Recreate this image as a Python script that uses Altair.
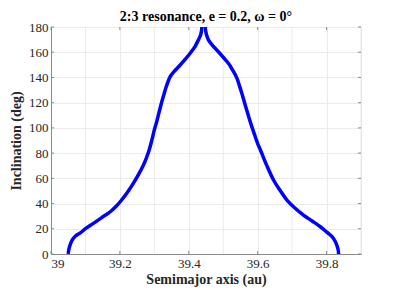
import altair as alt
import pandas as pd

# Left branch (semimajor axis in au, inclination in deg)
left_a = [39.050, 39.051, 39.054, 39.058, 39.064, 39.072, 39.084, 39.102, 39.123, 39.148, 39.172,
          39.190, 39.205, 39.222, 39.239, 39.253, 39.266, 39.276, 39.285, 39.293, 39.300, 39.307,
          39.313, 39.319, 39.326, 39.335, 39.346, 39.360, 39.375, 39.390, 39.404, 39.418, 39.428,
          39.434, 39.437, 39.438]
left_i = [0, 2.5, 6, 9, 12, 14.5, 16.5, 20.5, 24.3, 29, 33.5,
          38, 42.8, 49, 56, 62.5, 69.2, 75.5, 82.5, 90.5, 98.4, 105,
          111.6, 118, 124.8, 133, 140.6, 145.5, 149.9, 154.5, 159.2, 164.5, 169.8,
          173.5, 177, 180]
# Right branch
right_a = [39.835, 39.834, 39.831, 39.826, 39.816, 39.800, 39.782, 39.758, 39.733, 39.708, 39.685,
           39.665, 39.646, 39.626, 39.608, 39.600, 39.593, 39.583, 39.574, 39.564, 39.554, 39.547,
           39.540, 39.528, 39.515, 39.500, 39.486, 39.470, 39.457, 39.452, 39.449, 39.448]
right_i = [0, 3, 6, 9.5, 13.7, 17.5, 21.6, 26.2, 30.9, 36.5, 42.8,
           50.5, 58.7, 70.5, 82.5, 87.5, 93, 101, 108.9, 118, 127.4, 133.5,
           139.3, 145.5, 151.2, 156, 160.4, 165, 169.8, 173.5, 177, 180]

x_ticks = [39, 39.2, 39.4, 39.6, 39.8]
x_grid = [39.0, 39.1, 39.2, 39.3, 39.4, 39.5, 39.6, 39.7, 39.8, 39.9]
y_ticks = [0, 20, 40, 60, 80, 100, 120, 140, 160, 180]

rows = []
for k, (a, i) in enumerate(zip(left_a, left_i)):
    rows.append({"a": a, "inc": i, "branch": "L", "k": k})
for k, (a, i) in enumerate(zip(right_a, right_i)):
    rows.append({"a": a, "inc": i, "branch": "R", "k": k})
df = pd.DataFrame(rows)

W, H = 310, 227
FONT = "Liberation Serif"
xs = alt.Scale(domain=[39, 39.9], nice=False, zero=False)
ys = alt.Scale(domain=[0, 180], nice=False)

x_axis = alt.Axis(values=x_ticks, format="~g", title="Semimajor axis (au)", grid=True,
                  gridColor="#ebebeb", ticks=False, domainColor="#8a8a8a", labelOverlap=False,
                  labelFont=FONT, labelFontSize=13, labelColor="#262626", labelPadding=3,
                  titleFont=FONT, titleFontSize=14, titleFontWeight="bold", titleColor="#262626",
                  titlePadding=2)
y_axis = alt.Axis(values=y_ticks, title="Inclination (deg)", grid=True,
                  gridColor="#ebebeb", ticks=False, domainColor="#8a8a8a", labelOverlap=False,
                  labelFont=FONT, labelFontSize=13, labelColor="#262626", labelPadding=3,
                  titleFont=FONT, titleFontSize=14, titleFontWeight="bold", titleColor="#262626",
                  titlePadding=5)

X = lambda f: alt.X(f, scale=xs, axis=x_axis)
Y = lambda f: alt.Y(f, scale=ys, axis=y_axis)

xgrid_df = pd.DataFrame({"a": [v for v in x_grid if v not in x_ticks]})
xgrid = alt.Chart(xgrid_df).mark_rule(color="#ebebeb", strokeWidth=1).encode(
    x=X("a:Q"), y=alt.value(0), y2=alt.value(H))

curve = alt.Chart(df).mark_line(color="#0000ff", strokeWidth=3.5, clip=True,
                                interpolate="catmull-rom").encode(
    x=X("a:Q"),
    y=Y("inc:Q"),
    detail="branch:N",
    order="k:Q",
)

xt_df = pd.DataFrame({"a": x_ticks})
yt_df = pd.DataFrame({"inc": y_ticks})
tick_col = "#8a8a8a"
xt_bot = alt.Chart(xt_df).mark_rule(color=tick_col).encode(
    x=X("a:Q"), y=alt.value(H), y2=alt.value(H - 3))
xt_top = alt.Chart(xt_df).mark_rule(color=tick_col).encode(
    x=X("a:Q"), y=alt.value(0), y2=alt.value(3))
yt_left = alt.Chart(yt_df).mark_rule(color=tick_col).encode(
    y=Y("inc:Q"), x=alt.value(0), x2=alt.value(3))
yt_right = alt.Chart(yt_df).mark_rule(color=tick_col).encode(
    y=Y("inc:Q"), x=alt.value(W), x2=alt.value(W - 3))

chart = alt.layer(xgrid, curve, xt_bot, xt_top, yt_left, yt_right).properties(
    width=W, height=H,
    title=alt.TitleParams("2:3 resonance, e = 0.2, ω = 0°", font=FONT, fontSize=14,
                          fontWeight="bold", color="#000000", offset=-3, anchor="middle"),
    autosize=alt.AutoSizeParams(type="none"),
    padding={"left": 43, "top": 19, "right": 30, "bottom": 36},
).configure_view(stroke="#8a8a8a", strokeWidth=1).configure(
    background="white", font=FONT
).configure_axis(labelFont=FONT, titleFont=FONT)

chart.save("out.html", embed_options={"renderer": "svg", "actions": False})
